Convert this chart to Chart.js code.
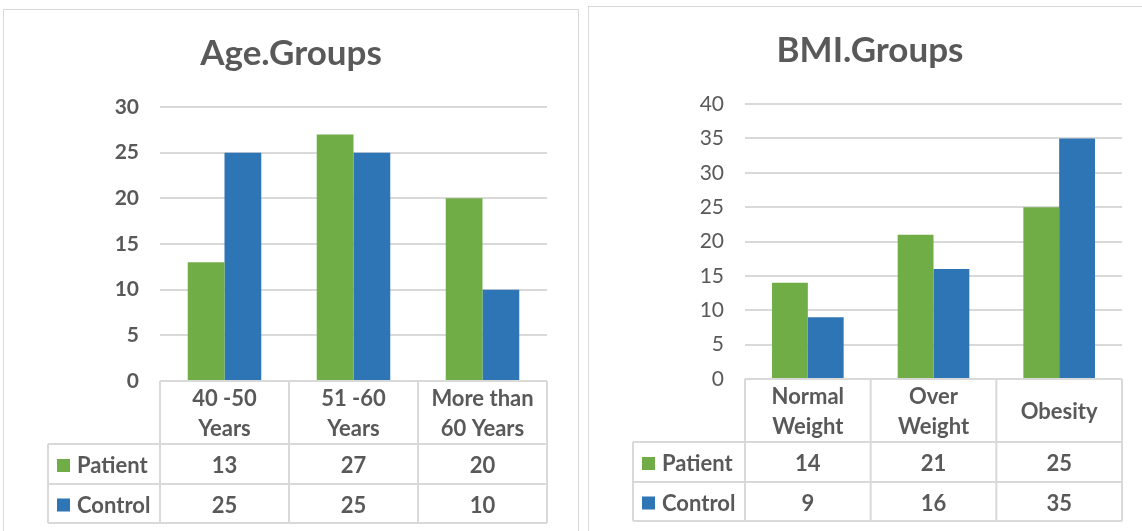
<!DOCTYPE html>
<html>
<head>
<meta charset="utf-8">
<script src="https://cdn.jsdelivr.net/npm/chart.js@4"></script>
<style>
  html, body { margin: 0; padding: 0; background: #fff; overflow: hidden; }
  body { width: 1142px; height: 531px; position: relative; }
  .panel { position: absolute; border: 1px solid #d9d9d9; box-sizing: border-box; }
  #agePanel { left: 3px; top: 9px; width: 576px; height: 540px; }
  #bmiPanel { left: 588px; top: 6px; width: 564px; height: 540px; }
  .panel div { position: absolute; left: 0; top: 0; width: 100%; height: 530px; }
</style>
</head>
<body>
<div class="panel" id="agePanel"><div><canvas id="ageChart"></canvas></div></div>
<div class="panel" id="bmiPanel"><div><canvas id="bmiChart"></canvas></div></div>
<script>
'use strict';

// data
const seriesNames = ['Patient', 'Control'];
const seriesColors = ['#70ad47', '#2e75b6'];

const ageLabels = [['40 -50', 'Years'], ['51 -60', 'Years'], ['More than', '60 Years']];
const agePatient = [13, 27, 20];
const ageControl = [25, 25, 10];
const ageMax = 30;

const bmiLabels = [['Normal', 'Weight'], ['Over', 'Weight'], ['Obesity']];
const bmiPatient = [14, 21, 25];
const bmiControl = [9, 16, 35];
const bmiMax = 40;

const textColor = '#595959';
const lineColor = '#d9d9d9';
const FONT = 'Lato, "Open Sans", sans-serif';

// data table drawn under the plot, columns follow the x scale
const tablePlugin = {
  id: 'dataTable',
  afterDraw(chart) {
    const ctx = chart.ctx;
    const area = chart.chartArea;
    const xs = chart.scales.x;
    const labels = chart.data.labels;
    const n = labels.length;
    const step = (area.right - area.left) / n;
    const headH = 63, rowH = [40, 39], legendW = 112;
    const y0 = area.bottom, y1 = y0 + headH, y2 = y1 + rowH[0], y3 = y2 + rowH[1];

    ctx.save();
    ctx.strokeStyle = lineColor;
    ctx.lineWidth = 2;
    ctx.beginPath();
    ctx.moveTo(area.left, y0); ctx.lineTo(area.right, y0);
    for (let i = 0; i <= n; i++) {
      const x = area.left + step * i;
      ctx.moveTo(x, y0); ctx.lineTo(x, y3);
    }
    ctx.moveTo(area.left - legendW, y1); ctx.lineTo(area.right, y1);
    ctx.moveTo(area.left - legendW, y2); ctx.lineTo(area.right, y2);
    ctx.moveTo(area.left - legendW, y3); ctx.lineTo(area.right, y3);
    ctx.moveTo(area.left - legendW, y1); ctx.lineTo(area.left - legendW, y3);
    ctx.stroke();

    ctx.fillStyle = textColor;
    ctx.font = 'bold 22px ' + FONT;
    ctx.textAlign = 'center';
    ctx.textBaseline = 'middle';
    for (let i = 0; i < n; i++) {
      const cx = xs.getPixelForValue(i);
      const lines = labels[i];
      const mid = (y0 + y1) / 2;
      lines.forEach((t, k) => {
        ctx.fillText(t, cx, mid + 1 + (k - (lines.length - 1) / 2) * 30);
      });
    }
    const rowMid = [(y1 + y2) / 2, (y2 + y3) / 2];
    chart.data.datasets.forEach((ds, r) => {
      ctx.textAlign = 'left';
      ctx.fillStyle = ds.backgroundColor;
      ctx.fillRect(area.left - legendW + 9, rowMid[r] - 5, 13, 13);
      ctx.fillStyle = textColor;
      ctx.fillText(ds.label, area.left - legendW + 29, rowMid[r] + 2);
      ctx.textAlign = 'center';
      ds.data.forEach((v, i) => {
        ctx.fillText(String(v), xs.getPixelForValue(i), rowMid[r] + 2);
      });
    });
    ctx.restore();
  }
};

function makeChart(id, title, labels, patient, control, max, boldTicks, pad) {
  return new Chart(document.getElementById(id), {
    type: 'bar',
    data: {
      labels: labels,
      datasets: [
        { label: seriesNames[0], data: patient, backgroundColor: seriesColors[0] },
        { label: seriesNames[1], data: control, backgroundColor: seriesColors[1] }
      ]
    },
    options: {
      responsive: true,
      maintainAspectRatio: false,
      animation: false,
      events: [],
      layout: { padding: { left: pad.side, right: pad.side, top: 0, bottom: pad.bottom } },
      datasets: { bar: { categoryPercentage: 0.57, barPercentage: 1.0 } },
      plugins: {
        legend: { display: false },
        tooltip: { enabled: false },
        title: {
          display: true,
          text: title,
          color: textColor,
          font: { family: FONT, size: 35, weight: 'bold' },
          padding: { top: pad.titleTop, bottom: pad.titleBottom }
        }
      },
      scales: {
        x: {
          ticks: { display: false },
          grid: { display: false },
          border: { display: false }
        },
        y: {
          min: 0,
          max: max,
          ticks: {
            stepSize: 5,
            padding: 21,
            color: textColor,
            font: { family: FONT, size: boldTicks ? 21 : 21, weight: boldTicks ? 'bold' : 'normal' }
          },
          grid: { color: lineColor, lineWidth: 2, drawTicks: false },
          border: { display: false },
          afterFit(scale) { scale.width = 156 - pad.side; }
        }
      }
    },
    plugins: [tablePlugin]
  });
}

makeChart('ageChart', 'Age.Groups', ageLabels, agePatient, ageControl, ageMax, true,
  { side: 31, bottom: 151, titleTop: 23, titleBottom: 32 });
makeChart('bmiChart', 'BMI.Groups', bmiLabels, bmiPatient, bmiControl, bmiMax, false,
  { side: 29, bottom: 150, titleTop: 23, titleBottom: 32 });
</script>
</body>
</html>
